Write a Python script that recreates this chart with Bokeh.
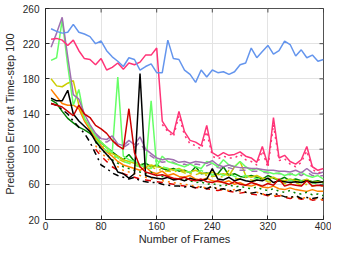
import math
from bokeh.plotting import figure
from bokeh.models import Range1d, FixedTicker
from bokeh.embed import file_html
from bokeh.resources import INLINE

# x positions (number of frames)
frames = list(range(8, 401, 8))
frames_late = list(range(72, 401, 8))
frames_pink2 = list(range(168, 401, 8))

blue = [237, 234, 232, 233, 242, 233, 231, 228, 220, 223, 212, 205, 200, 194, 204, 202, 190, 194, 197, 187,
        187, 224, 203, 202, 190, 185, 176, 190, 182, 190, 187, 188, 185, 188, 196, 198, 215, 204, 211, 218,
        208, 212, 223, 219, 206, 213, 204, 207, 200, 202]
pink = [225, 226, 224, 218, 224, 212, 203, 202, 196, 203, 190, 193, 198, 191, 198, 196, 199, 207, 207, 215,
        132, 122, 117, 143, 120, 110, 108, 104, 127, 96, 92, 96, 93, 94, 97, 92, 90, 85, 103, 82,
        136, 90, 93, 86, 83, 88, 103, 80, 76, 78]
purple = [216, 232, 250, 205, 162, 157, 140, 128, 118, 112, 111, 115, 106, 104, 110, 105, 114, 100, 95, 90,
          88, 89, 88, 85, 86, 84, 86, 85, 84, 87, 82, 80, 82, 80, 79, 79, 78, 78, 77, 76,
          76, 75, 75, 74, 76, 73, 78, 73, 72, 74]
lgreen = [201, 204, 247, 195, 150, 168, 135, 125, 115, 108, 102, 96, 182, 92, 88, 86, 82, 80, 155, 80,
          92, 86, 84, 82, 80, 83, 80, 78, 86, 84, 80, 88, 82, 80, 86, 80, 76, 78, 75, 74,
          72, 73, 70, 72, 70, 74, 70, 68, 70, 66]
black = [158, 155, 155, 167, 140, 132, 126, 120, 109, 101, 94, 87, 74, 72, 67, 72, 186, 70, 68, 67,
         66, 68, 65, 66, 64, 67, 65, 64, 66, 78, 66, 65, 68, 64, 66, 64, 63, 65, 64, 67,
         62, 64, 63, 62, 63, 62, 64, 62, 62, 63]
dred = [152, 150, 148, 143, 138, 150, 140, 136, 127, 123, 118, 110, 104, 100, 146, 96, 80, 74, 72, 70,
        71, 69, 67, 66, 68, 65, 64, 66, 63, 62, 64, 62, 60, 63, 60, 59, 62, 60, 58, 61,
        59, 66, 58, 60, 59, 58, 64, 58, 59, 58]
yellow = [180, 172, 171, 175, 178, 150, 135, 125, 115, 108, 102, 95, 92, 88, 86, 84, 82, 80, 82, 80,
          79, 78, 76, 78, 75, 74, 76, 73, 72, 74, 71, 72, 70, 80, 86, 70, 68, 70, 67, 66,
          68, 65, 64, 66, 64, 63, 66, 62, 63, 62]
orange = [168, 160, 152, 150, 150, 146, 132, 122, 112, 104, 97, 92, 86, 82, 80, 78, 76, 80, 74, 72,
          75, 70, 72, 69, 68, 70, 66, 65, 67, 64, 63, 62, 64, 60, 62, 59, 58, 60, 57, 56,
          58, 55, 54, 56, 54, 53, 52, 54, 52, 52]
dgreen = [156, 152, 143, 135, 130, 125, 122, 118, 112, 107, 102, 97, 92, 88, 94, 86, 82, 84, 80, 82,
          78, 76, 78, 75, 76, 73, 80, 72, 73, 71, 72, 80, 70, 72, 69, 68, 70, 68, 66, 70,
          67, 65, 68, 64, 66, 64, 65, 63, 64, 62]
black_dd = [152, 150, 145, 140, 132, 125, 118, 108, 95, 82, 78, 73, 70, 68, 66, 68, 64, 63, 62, 62,
            60, 59, 58, 58, 57, 58, 56, 57, 55, 58, 54, 55, 53, 52, 54, 51, 50, 51, 49, 48,
            50, 48, 46, 45, 47, 44, 45, 44, 45, 44]

pink_dot = [128, 120, 114, 138, 116, 106, 104, 100, 120, 92, 89, 92, 90, 90, 94, 88, 86, 82, 98, 79,
            128, 87, 89, 83, 80, 85, 98, 77, 73, 75]
purple_dash = [116, 110, 108, 112, 104, 102, 106, 102, 108, 97, 92, 88, 85, 86, 85, 82, 83, 81, 83, 82,
               81, 84, 79, 78, 79, 77, 76, 76, 75, 75, 74, 73, 73, 72, 72, 71, 73, 70, 74, 70, 69, 70]
yellow_dd = [112, 105, 99, 93, 89, 86, 84, 82, 80, 78, 80, 77, 76, 75, 74, 76, 73, 72, 71, 73,
             70, 69, 70, 68, 76, 67, 66, 68, 65, 64, 66, 63, 62, 64, 61, 60, 62, 59, 60, 58, 59, 58]
lgreen_dash = [110, 104, 98, 94, 90, 86, 84, 82, 80, 79, 78, 88, 80, 78, 76, 77, 75, 74, 73, 76,
               72, 71, 73, 70, 72, 69, 68, 70, 67, 66, 68, 65, 66, 64, 63, 65, 62, 64, 61, 62, 60, 61]
dgreen_dot = [108, 100, 94, 88, 84, 80, 78, 76, 74, 72, 74, 70, 69, 68, 66, 67, 65, 64, 62, 63,
              60, 61, 59, 58, 60, 57, 58, 56, 55, 57, 54, 53, 55, 52, 51, 53, 50, 49, 51, 48, 49, 47]
orange_dot = [104, 96, 90, 85, 80, 76, 74, 72, 70, 68, 66, 67, 64, 63, 62, 61, 60, 59, 58, 57,
              56, 57, 55, 54, 53, 54, 52, 51, 50, 51, 49, 48, 47, 48, 46, 45, 46, 44, 45, 43, 44, 42]
red_dash = [100, 92, 86, 80, 76, 72, 70, 68, 66, 65, 64, 63, 62, 61, 60, 59, 58, 57, 56, 57,
            55, 54, 53, 54, 52, 51, 50, 51, 49, 48, 49, 47, 46, 47, 45, 44, 45, 43, 44, 42, 43, 42]

x_ticks = [0, 80, 160, 240, 320, 400]
y_ticks = [20, 60, 100, 140, 180, 220, 260]
X_MIN, X_MAX, Y_MIN, Y_MAX = 0, 400, 20, 260

FONT = "Liberation Sans"
AX = "#262626"

p = figure(width=331, height=247, x_range=Range1d(X_MIN, X_MAX), y_range=Range1d(Y_MIN, Y_MAX),
           output_backend="svg", toolbar_location=None,
           min_border_left=44, min_border_right=8, min_border_top=8, min_border_bottom=27)
p.background_fill_color = "white"
p.border_fill_color = "white"
p.outline_line_color = AX
p.outline_line_width = 0.8

for ax in (p.xaxis[0], p.yaxis[0]):
    ax.major_tick_in = 4
    ax.major_tick_out = 0
    ax.minor_tick_line_color = None
    ax.axis_line_color = AX
    ax.major_tick_line_color = AX
    ax.major_label_text_font = FONT
    ax.major_label_text_font_size = "10px"
    ax.major_label_text_color = AX
    ax.axis_label_text_font = FONT
    ax.axis_label_text_font_size = "11px"
    ax.axis_label_text_font_style = "normal"
    ax.axis_label_text_color = AX

p.xaxis.ticker = FixedTicker(ticks=x_ticks)
p.yaxis.ticker = FixedTicker(ticks=y_ticks)
p.xaxis.axis_label = "Number of Frames"
p.yaxis.axis_label = "Prediction Error at Time-step 100"
p.xaxis.major_label_standoff = 2
p.xaxis.axis_label_standoff = 0
p.yaxis.major_label_standoff = 6
p.yaxis.axis_label_standoff = 4

p.grid.grid_line_color = "#E3E3E3"
p.grid.grid_line_width = 1

W = 1.5
series = [
    (frames, dgreen, "#008000", "solid"),
    (frames, orange, "#FF8000", "solid"),
    (frames, yellow, "#CCCC00", "solid"),
    (frames_late, red_dash, "#DD0000", "dashed"),
    (frames_late, orange_dot, "#FF8000", "dotted"),
    (frames_late, dgreen_dot, "#008000", "dotted"),
    (frames_late, yellow_dd, "#CCCC00", "dashdot"),
    (frames_late, lgreen_dash, "#66FF66", "dashed"),
    (frames_late, purple_dash, "#A070B0", "dashed"),
    (frames, black_dd, "#000000", "dashdot"),
    (frames, lgreen, "#66FF66", "solid"),
    (frames, purple, "#A070B0", "solid"),
    (frames, black, "#000000", "solid"),
    (frames, dred, "#CC0000", "solid"),
    (frames_pink2, pink_dot, "#FF3377", "dotted"),
    (frames, pink, "#FF3377", "solid"),
    (frames, blue, "#6495ED", "solid"),
]
for xs, ys, col, dash in series:
    p.line(xs, ys, line_color=col, line_width=W, line_dash=dash)

# inward ticks on the top and right edges of the box (half of each marker is clipped)
p.scatter(x=x_ticks, y=[Y_MAX] * len(x_ticks), marker="dash", angle=math.pi / 2, size=8,
          line_color=AX, line_width=0.8)
p.scatter(x=[X_MAX] * len(y_ticks), y=y_ticks, marker="dash", size=8,
          line_color=AX, line_width=0.8)

open("out.html", "w").write(file_html(p, INLINE))
